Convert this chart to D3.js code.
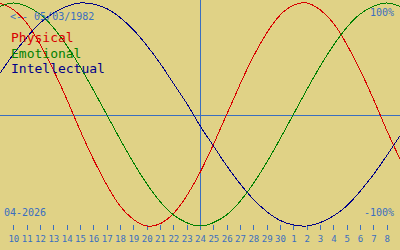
<!DOCTYPE html>
<html>
<head>
<meta charset="utf-8">
<script src="https://cdn.jsdelivr.net/npm/d3@7"></script>
<style>
  html, body { margin: 0; padding: 0; background: #e0d286; }
  svg { display: block; }
  text { font-family: "DejaVu Sans Mono", monospace; }
</style>
</head>
<body>
<svg id="chart"></svg>
<script>
// day of month for each sample, 9 April .. 9 May 2026 (centre = 24 April)
const days = [9, 10, 11, 12, 13, 14, 15, 16, 17, 18, 19, 20, 21, 22, 23, 24, 25, 26, 27, 28, 29, 30,
              1, 2, 3, 4, 5, 6, 7, 8, 9];

const physical = [1.00, 0.94, 0.82, 0.63, 0.40, 0.14, -0.14, -0.40, -0.63, -0.82, -0.94, -1.00, -0.98,
                  -0.89, -0.73, -0.52, -0.27, 0.00, 0.27, 0.52, 0.73, 0.89, 0.98, 1.00, 0.94, 0.82,
                  0.63, 0.40, 0.14, -0.14, -0.40];

const emotional = [0.97, 1.00, 0.97, 0.90, 0.78, 0.62, 0.43, 0.22, 0.00, -0.22, -0.43, -0.62, -0.78,
                   -0.90, -0.97, -1.00, -0.97, -0.90, -0.78, -0.62, -0.43, -0.22, 0.00, 0.22, 0.43,
                   0.62, 0.78, 0.90, 0.97, 1.00, 0.97];

const intellectual = [0.37, 0.54, 0.69, 0.82, 0.91, 0.97, 1.00, 0.99, 0.95, 0.87, 0.76, 0.62, 0.46,
                      0.28, 0.10, -0.10, -0.28, -0.46, -0.62, -0.76, -0.87, -0.95, -0.99, -1.00,
                      -0.97, -0.91, -0.82, -0.69, -0.54, -0.37, -0.19];

const legend = ['Physical', 'Emotional', 'Intellectual'];
const birthLabel = '<-- 05/03/1982';
const monthLabel = '04-2026';
const topLabel = '100%';
const bottomLabel = '-100%';

const width = 400, height = 250;
const blue = '#3a6ec0';
const colors = ['#d80000', '#008000', '#000088'];

let svg = d3.select('#chart')
    .attr('width', width)
    .attr('height', height);

let xScale = d3.scaleLinear()
    .domain([0, days.length - 1])
    .range([0, width]);

let yScale = d3.scaleLinear()
    .domain([-1, 1])
    .range([226, 3]);

// today marker and zero line
svg.append('line')
    .attr('x1', 0).attr('x2', width)
    .attr('y1', Math.round(yScale(0)) + 0.5).attr('y2', Math.round(yScale(0)) + 0.5)
    .attr('stroke', blue);

svg.append('line')
    .attr('x1', xScale(15) + 0.5).attr('x2', xScale(15) + 0.5)
    .attr('y1', 0).attr('y2', 226)
    .attr('stroke', blue);

// day axis
let ticks = d3.range(1, days.length - 1);
let xAxis = d3.axisBottom(xScale)
    .tickValues(ticks)
    .tickSize(5)
    .tickPadding(6)
    .tickFormat(i => days[i]);

let axis = svg.append('g')
    .attr('transform', 'translate(0, 225)')
    .call(xAxis);

axis.select('.domain').remove();
axis.selectAll('line')
    .attr('stroke', blue)
    .attr('shape-rendering', 'crispEdges');
axis.selectAll('text')
    .attr('fill', blue)
    .style('font-family', '"DejaVu Sans Mono", monospace')
    .style('font-size', '9px');

// curves
let line = d3.line()
    .x((d, i) => xScale(i))
    .y(d => yScale(d))
    .curve(d3.curveNatural);

[physical, emotional, intellectual].forEach((series, k) => {
  svg.append('path')
      .datum(series)
      .attr('d', line)
      .attr('fill', 'none')
      .attr('stroke', colors[k])
      .attr('stroke-width', 1)
      .attr('shape-rendering', 'crispEdges');
});

// labels
svg.append('text')
    .attr('x', 10).attr('y', 20)
    .attr('fill', blue)
    .style('font-size', '10px')
    .text(birthLabel);

svg.selectAll('.legend')
    .data(legend)
    .enter()
    .append('text')
    .attr('class', 'legend')
    .attr('x', 11)
    .attr('y', (d, i) => 42 + i * 15.5)
    .attr('fill', (d, i) => colors[i])
    .style('font-size', '13px')
    .text(d => d);

svg.append('text')
    .attr('x', 394).attr('y', 16)
    .attr('text-anchor', 'end')
    .attr('fill', blue)
    .style('font-size', '10px')
    .text(topLabel);

svg.append('text')
    .attr('x', 394).attr('y', 216)
    .attr('text-anchor', 'end')
    .attr('fill', blue)
    .style('font-size', '10px')
    .text(bottomLabel);

svg.append('text')
    .attr('x', 4).attr('y', 216)
    .attr('fill', blue)
    .style('font-size', '10px')
    .text(monthLabel);
</script>
</body>
</html>
